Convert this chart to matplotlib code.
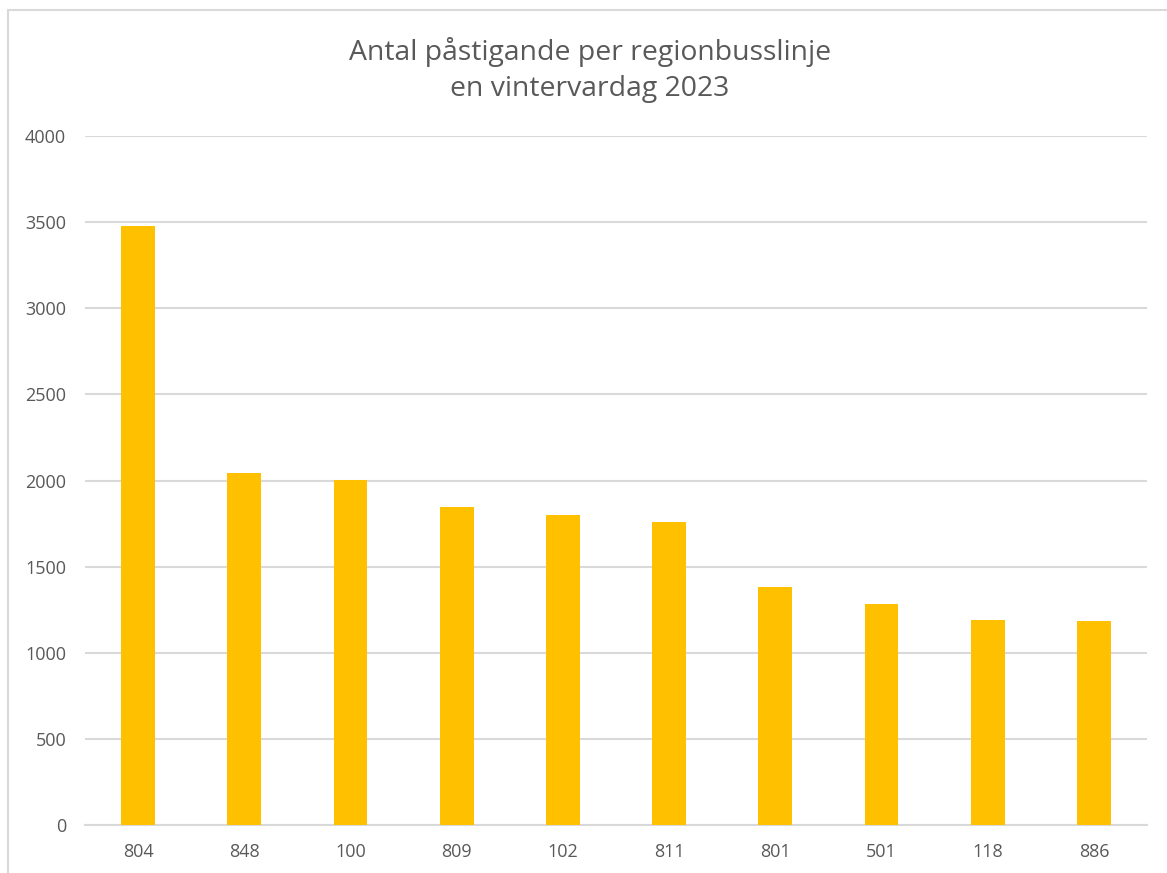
import numpy as np
import matplotlib.pyplot as plt
from matplotlib.lines import Line2D

plt.rcParams['font.family'] = ['Open Sans', 'DejaVu Sans']

linjer = ['804', '848', '100', '809', '102', '811', '801', '501', '118', '886']
pastigande = [3480, 2044, 2005, 1849, 1797, 1759, 1381, 1284, 1191, 1185]
yticks = [0, 500, 1000, 1500, 2000, 2500, 3000, 3500, 4000]

W, H = 1167, 873
fig = plt.figure(figsize=(W / 100, H / 100), dpi=100)
ax = fig.add_axes([85 / W, 1 - 825 / H, (1147 - 85) / W, (825 - 136) / H])

x = np.arange(len(linjer))
ax.bar(x, pastigande, width=0.32, color='#FFC000', zorder=3)

ax.set_xlim(-0.5, len(linjer) - 0.5)
ax.set_ylim(0, 4000)
ax.set_yticks(yticks)
ax.set_xticks(x)
ax.set_xticklabels(linjer)
ax.grid(axis='y', color='#d9d9d9', linewidth=1.5, zorder=0)
for s in ['top', 'right', 'left']:
    ax.spines[s].set_visible(False)
ax.spines['bottom'].set_color('#d9d9d9')
ax.spines['bottom'].set_linewidth(1.5)
ax.tick_params(length=0, labelsize=13, colors='#595959', pad=13)
ax.tick_params(axis='y', pad=13.5)

fig.text(590 / W, 1 - 70 / H, 'Antal påstigande per regionbusslinje\nen vintervardag 2023',
         ha='center', va='center', fontsize=20.4, color='#595959', linespacing=1.35)

# diagramkant (vänster och överkant)
fig.add_artist(Line2D([8 / W, 8 / W], [0, 1 - 10 / H], color='#d9d9d9', linewidth=1.5))
fig.add_artist(Line2D([8 / W, 1], [1 - 10 / H, 1 - 10 / H], color='#d9d9d9', linewidth=1.5))

fig.savefig('out.png', dpi=100, facecolor='white')
